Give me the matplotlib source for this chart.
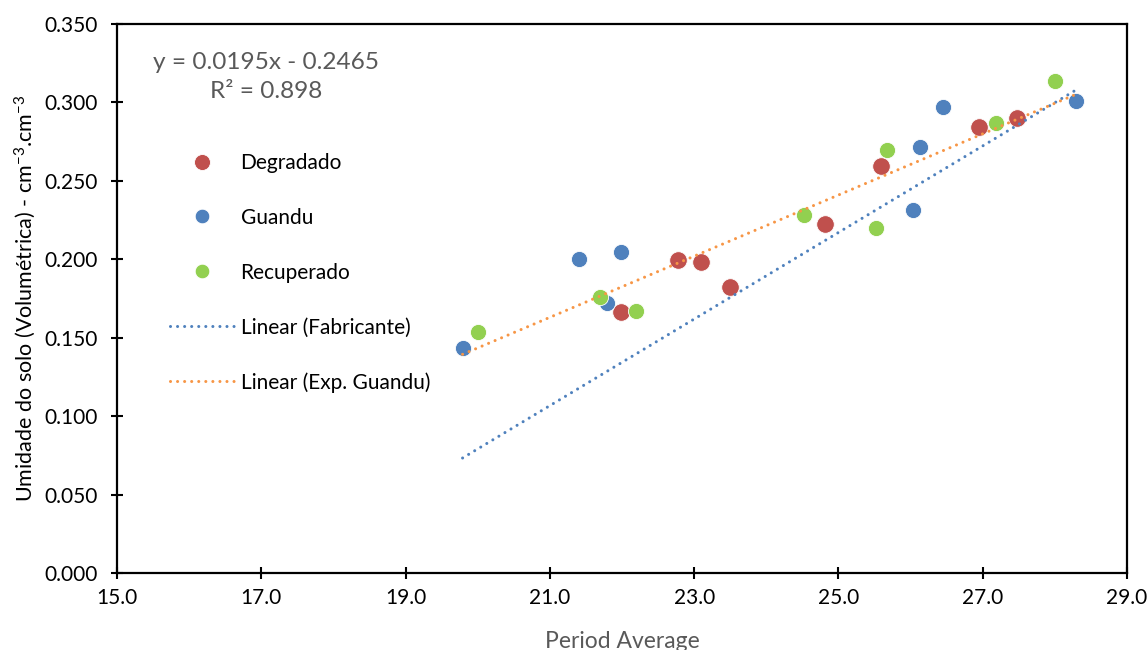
import matplotlib.pyplot as plt
from matplotlib.lines import Line2D

plt.rcParams['font.family'] = ['Lato', 'DejaVu Sans']
plt.rcParams['mathtext.fontset'] = 'custom'
plt.rcParams['mathtext.rm'] = 'Lato'
plt.rcParams['mathtext.it'] = 'Lato'

# Degradado
deg_x = [21.99, 22.77, 23.09, 23.49, 24.82, 25.59, 26.95, 27.47]
deg_y = [0.1664, 0.1995, 0.1983, 0.1823, 0.2225, 0.2595, 0.2843, 0.2900]
# Guandu
gua_x = [19.79, 21.41, 21.98, 21.79, 26.03, 26.13, 26.45, 28.29]
gua_y = [0.1434, 0.2002, 0.2046, 0.1720, 0.2314, 0.2716, 0.2970, 0.3009]
# Recuperado
rec_x = [20.00, 21.70, 22.20, 24.52, 25.52, 25.67, 27.18, 28.00]
rec_y = [0.1536, 0.1760, 0.1670, 0.2282, 0.2200, 0.2697, 0.2869, 0.3137]

# trendlines (slope, intercept) and x range
fab_coef = (0.0276, -0.4729)
exp_coef = (0.0195, -0.2465)
trend_x = [19.79, 28.29]

xticks = [15.0, 17.0, 19.0, 21.0, 23.0, 25.0, 27.0, 29.0]
yticks = [0.0, 0.05, 0.10, 0.15, 0.20, 0.25, 0.30, 0.35]

c_red = '#C0504D'
c_blue = '#4F81BD'
c_green = '#92D050'
c_orange = '#F79646'
gray = '#595959'

fig = plt.figure(figsize=(11.47, 6.5), dpi=100)
ax = fig.add_axes([0.102, 0.1185, 0.8806, 0.8445])

dots = (0, (0.01, 2.3))
for coef, col in [(fab_coef, c_blue), (exp_coef, c_orange)]:
    yy = [coef[0] * x + coef[1] for x in trend_x]
    ax.plot(trend_x, yy, color=col, lw=2.2, linestyle=dots,
            dash_capstyle='round', zorder=3)

ax.scatter(deg_x, deg_y, s=160, color=c_red, edgecolor='white', lw=0.6, zorder=2)
ax.scatter(gua_x, gua_y, s=135, color=c_blue, edgecolor='white', lw=0.6, zorder=2)
ax.scatter(rec_x, rec_y, s=135, color=c_green, edgecolor='white', lw=0.6, zorder=2)

ax.set_xlim(15, 29)
ax.set_ylim(0, 0.35)
ax.set_xticks(xticks)
ax.set_xticklabels([f'{v:.1f}' for v in xticks])
ax.set_yticks(yticks)
ax.set_yticklabels([f'{v:.3f}' for v in yticks])
ax.tick_params(direction='inout', length=9, width=1.5, labelsize=15)
ax.tick_params(axis='y', pad=9)
ax.tick_params(axis='x', pad=6)
for sp in ax.spines.values():
    sp.set_linewidth(1.6)

ax.set_xlabel('Period Average', color=gray, fontsize=16.5, labelpad=17)
ax.set_ylabel('Umidade do solo (Volumétrica) - cm$^{\\mathrm{-3}}$.cm$^{\\mathrm{-3}}$',
              fontsize=15.5, labelpad=5)

fig.text(266 / 1147, 1 - 77 / 650, 'y = 0.0195x - 0.2465\nR² = 0.898',
         ha='center', va='center', color=gray, fontsize=17.6, linespacing=1.5)

handles = [
    Line2D([], [], marker='o', ls='none', ms=11.5, color=c_red, mec='white', mew=0.6),
    Line2D([], [], marker='o', ls='none', ms=10.5, color=c_blue, mec='white', mew=0.6),
    Line2D([], [], marker='o', ls='none', ms=10.5, color=c_green, mec='white', mew=0.6),
    Line2D([], [], color=c_blue, lw=2.2, ls=dots, dash_capstyle='round'),
    Line2D([], [], color=c_orange, lw=2.2, ls=dots, dash_capstyle='round'),
]
labels = ['Degradado', 'Guandu', 'Recuperado', 'Linear (Fabricante)', 'Linear (Exp. Guandu)']
fig.legend(handles, labels, loc='upper left', bbox_to_anchor=(170 / 1147, 1 - 153 / 650),
           frameon=False, fontsize=15, handlelength=3.1, handletextpad=0.29,
           labelspacing=1.67, borderpad=0, borderaxespad=0)

fig.savefig('out.png', dpi=100)
